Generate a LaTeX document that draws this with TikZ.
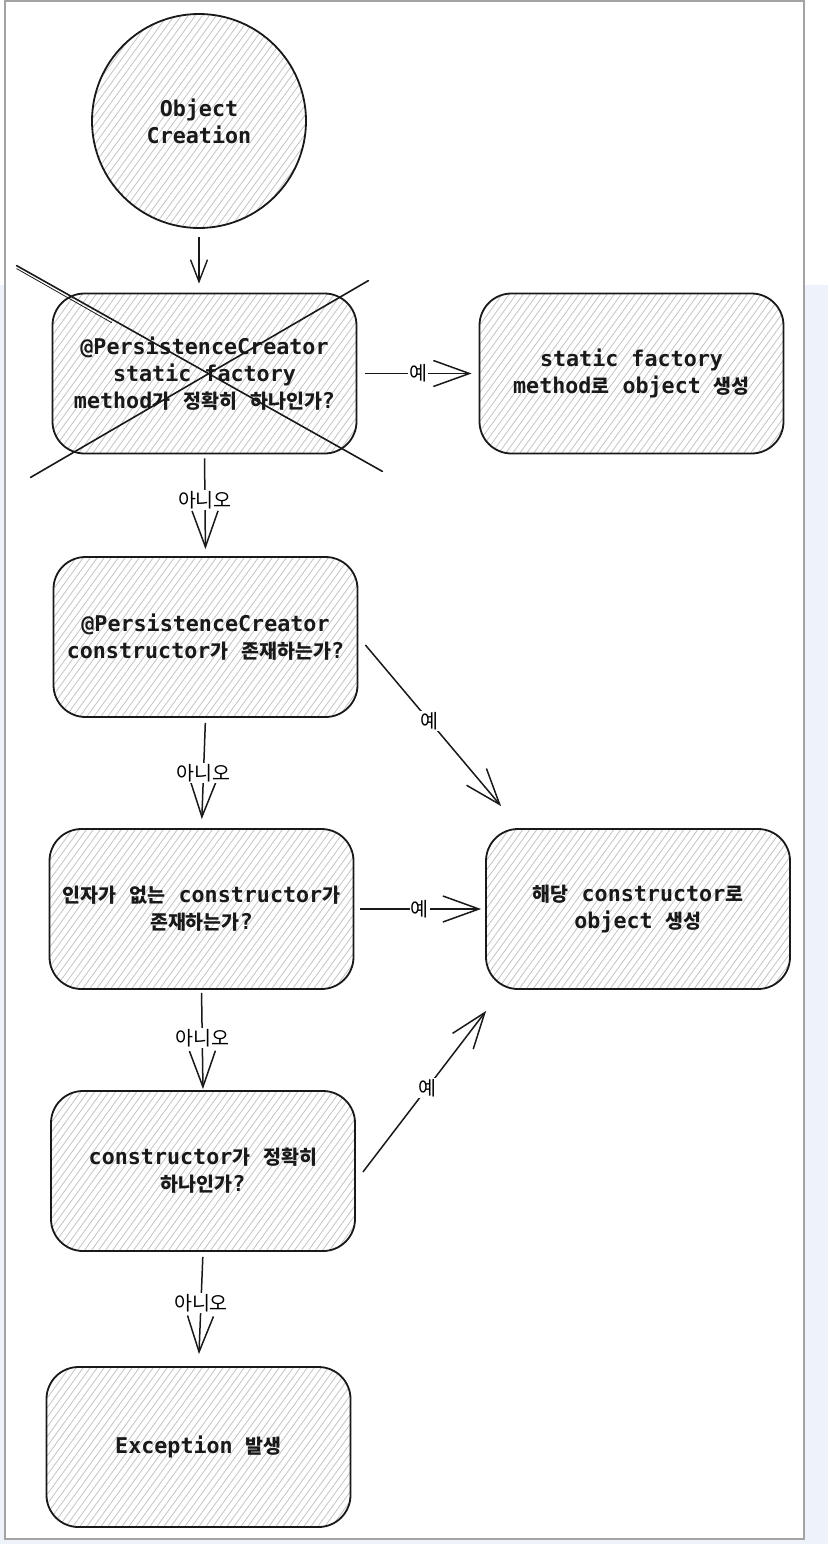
\documentclass[tikz,border=0pt]{standalone}
\usepackage{fontspec}
\newfontfamily\codefont{DejaVu Sans Mono}
\newfontfamily\krfont{Noto Sans CJK KR}
\usetikzlibrary{arrows.meta,calc}
\newcommand\krt[1]{{\krfont\fontsize{19.5}{27}\selectfont #1}}
\definecolor{bgblue}{HTML}{EEF3FB}
\definecolor{panelgray}{HTML}{A3A3A3}
\definecolor{hatchgray}{HTML}{C4C4C4}
\tikzset{
  hatchfill/.style={path picture={
    \foreach \k in {-170,-163,...,330}
      \draw[hatchgray, line width=0.8pt] ([xshift=\k pt]path picture bounding box.south west) -- ++(54:420pt);
  }},
  boxtext/.style={font=\codefont\bfseries\fontsize{21.7}{27}\selectfont, text=black!90},
  box/.style={draw=black!90, line width=1.8pt, rounded corners=32pt, minimum width=304pt,
    minimum height=160pt, inner sep=0pt, align=center, hatchfill, boxtext},
  startnode/.style={circle, draw=black!90, line width=1.8pt, minimum size=214pt, inner sep=0pt,
    align=center, hatchfill, boxtext},
  arr/.style={draw=black!90, line width=1.5pt,
    -{Straight Barb[length=36pt, width=26pt, line width=1.5pt]}},
  arrsmall/.style={draw=black!90, line width=1.4pt,
    -{Straight Barb[length=22pt, width=17pt, line width=1.4pt]}},
  lab/.style={fill=white, inner sep=1pt, font=\krfont\fontsize{19.5}{20}\selectfont},
  crossline/.style={draw=black!90, line width=1.6pt, line cap=round}
}
\begin{document}
\begin{tikzpicture}[x=1pt, y=-1pt]
  \useasboundingbox (0,0) rectangle (828,1544);
  % background
  \fill[bgblue] (0,285) rectangle (828,1544);
  \draw[panelgray, fill=white, line width=1.5pt] (5,1) rectangle (804,1539);

  % nodes
  \node[startnode] (c0) at (199,121) {Object\\Creation};
  \node[box] (b1) at (204.5,373.5) {@PersistenceCreator\\static factory\\method\krt{가} \krt{정확히} \krt{하나인가}?};
  \node[box] (b2) at (631.5,373.5) {static factory\\method\krt{로} object \krt{생성}};
  \node[box] (b3) at (205.5,637) {@PersistenceCreator\\constructor\krt{가} \krt{존재하는가}?};
  \node[box] (b4) at (201.5,909) {\krt{인자가} \krt{없는} constructor\krt{가}\\\krt{존재하는가}?};
  \node[box] (b5) at (638,909) {\krt{해당} constructor\krt{로}\\object \krt{생성}};
  \node[box] (b6) at (203,1171) {constructor\krt{가} \krt{정확히}\\\krt{하나인가}?};
  \node[box] (b7) at (198.5,1447) {Exception \krt{발생}};

  % connectors
  \draw[arrsmall, shorten <=8pt, shorten >=9pt] (c0.south) -- (c0.south |- b1.north);
  \draw[arr, shorten <=8pt, shorten >=7pt] (b1.east) -- node[lab] {예} (b2.west);
  \draw[arr, shorten <=4pt, shorten >=7pt] (b1.south) -- node[lab, pos=0.45] {아니오} (b3.north);
  \draw[arr] ($(b3.east)+(7,8)$) -- node[lab, pos=0.47] {예} ($(b5.north west)+(16,-22)$);
  \draw[arr, shorten <=5pt, shorten >=9pt] (b3.south) -- node[lab, pos=0.5] {아니오} (b4.north);
  \draw[arr, shorten <=6pt, shorten >=4pt] (b4.east) -- node[lab] {예} (b5.west);
  \draw[arr, shorten <=3pt, shorten >=1pt] (b4.south) -- node[lab, pos=0.48] {아니오} (b6.north);
  \draw[arr] ($(b6.east)+(7,1)$) -- node[lab, pos=0.52] {예} ($(b5.south west)+(1,21)$);
  \draw[arr, shorten <=5pt, shorten >=12pt] (b6.south) -- node[lab, pos=0.45] {아니오} (b7.north);

  % cross over first decision
  \draw[crossline] ($(b1.north west)+(-35,-27)$) -- ($(b1.south east)+(25,17)$);
  \draw[crossline, line width=0.8pt] ($(b1.north west)+(-35,-24)$) -- ($(b1.north west)+(60,30)$);
  \draw[crossline] ($(b1.south west)+(-21,23)$) -- ($(b1.north east)+(11,-12)$);
\end{tikzpicture}
\end{document}
